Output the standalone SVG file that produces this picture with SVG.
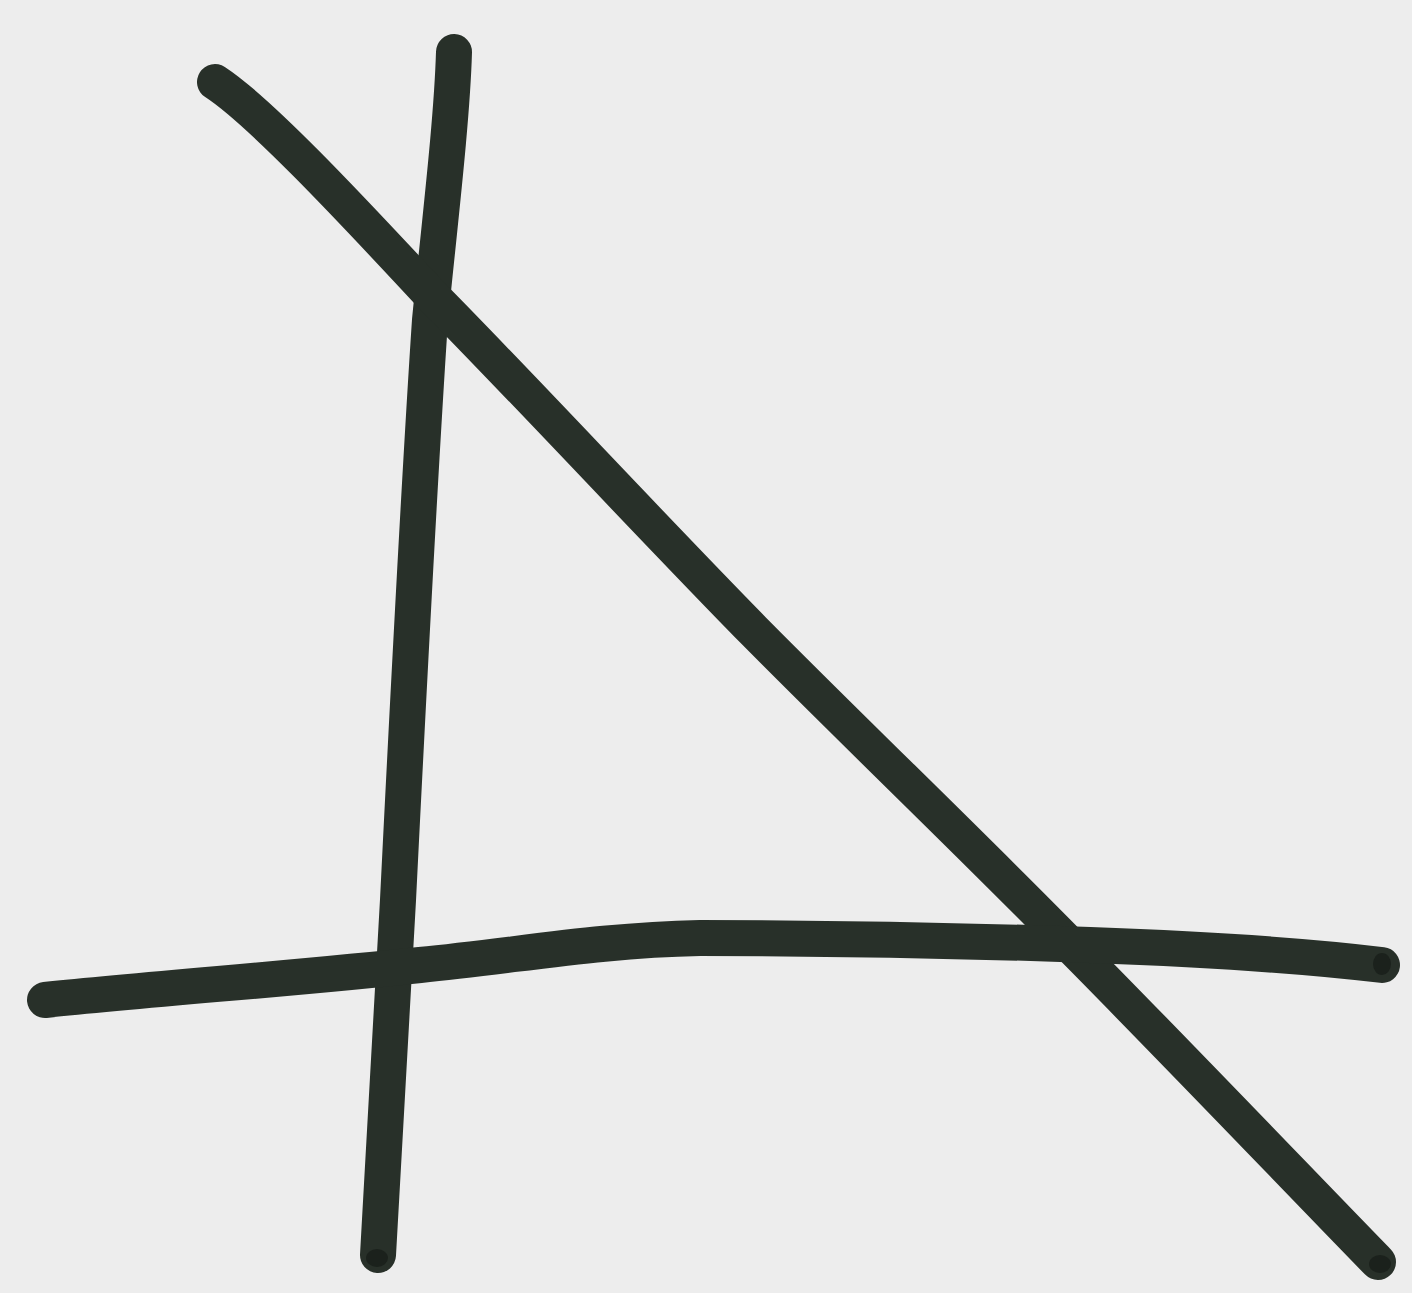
<svg xmlns="http://www.w3.org/2000/svg" width="1412" height="1293" viewBox="0 0 1412 1293">
<style>
.s{fill:none;stroke:#283029;stroke-width:36;stroke-linecap:round;stroke-linejoin:round}
.e{fill:#1b211c}
</style>
<rect width="1412" height="1293" fill="#ededed"/>
<path class="s" d="M454,52 C452,120 440,220 430,320 C418,500 408,700 398,900 C390,1050 382,1180 378,1255"/>
<path class="s" d="M215,82 C258,110 343,200 433,297 C523,388 647,522 753,630 C860,738 968,841 1072,947 C1177,1053 1329,1212 1378,1262"/>
<path class="s" d="M45,1000 C160,988 300,978 420,965 C520,955 600,940 700,938 C820,938 950,940 1090,945 C1200,949 1300,955 1382,965"/>
<ellipse class="e" cx="377" cy="1258" rx="11" ry="9"/>
<ellipse class="e" cx="1382" cy="964" rx="9" ry="11"/>
<ellipse class="e" cx="1380" cy="1264" rx="11" ry="9"/>
</svg>
